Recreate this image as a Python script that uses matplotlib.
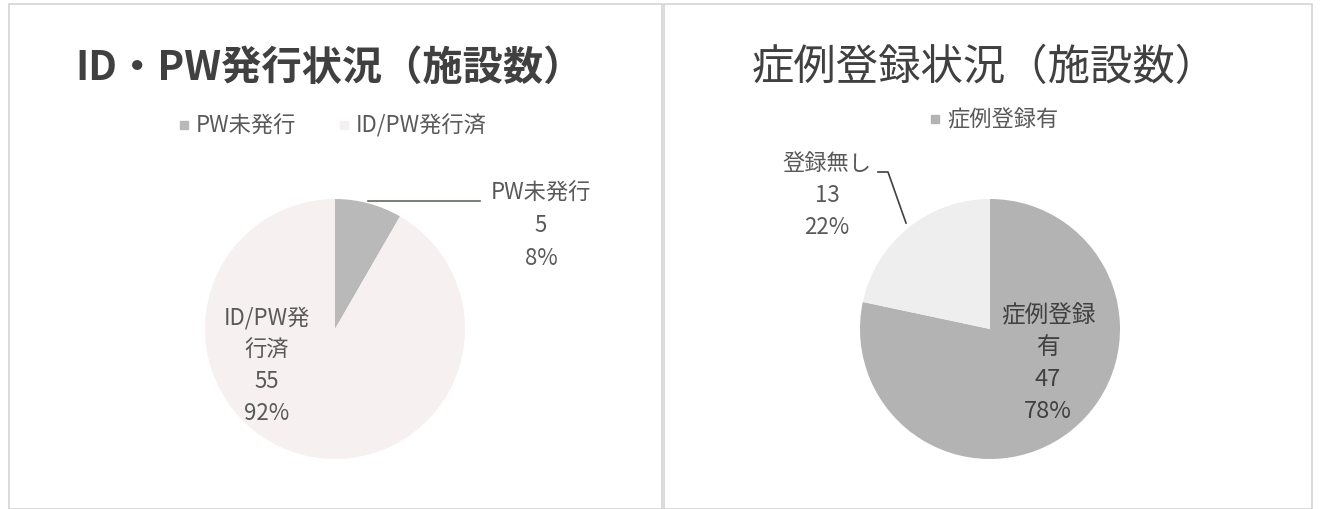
import matplotlib.pyplot as plt
from matplotlib.patches import Rectangle
from matplotlib.lines import Line2D

plt.rcParams['font.family'] = ['Noto Sans CJK JP', 'DejaVu Sans']

W, H = 1320, 510

# data
left_title = "ID・PW発行状況（施設数）"
left_cats = ["PW未発行", "ID/PW発行済"]
left_vals = [5, 55]
left_colors = ["#b9b9b9", "#f6f1f0"]

right_title = "症例登録状況（施設数）"
right_cats = ["症例登録有", "登録無し"]
right_vals = [47, 13]
right_colors = ["#b3b3b3", "#efeeee"]

TXT = "#595959"
FS = 16

fig = plt.figure(figsize=(W / 100, H / 100), dpi=100)

# panel borders
for x0, x1 in [(9, 662), (664, 1312)]:
    fig.add_artist(Rectangle((x0 / W, 0), (x1 - x0) / W, 1 - 5 / H, transform=fig.transFigure,
                             fill=False, edgecolor="#d4d4d4", linewidth=1.2))


def make_ax(x0, x1, y0, y1):
    return fig.add_axes([x0 / W, 1 - y1 / H, (x1 - x0) / W, (y1 - y0) / H])


def fix_ax(ax, x0, x1, y0, y1, cx, cy, R):
    ax.set_xlim((x0 - cx) / R, (x1 - cx) / R)
    ax.set_ylim((cy - y1) / R, (cy - y0) / R)
    ax.axis('off')


def pct(v, vals):
    return f"{round(100 * v / sum(vals))}%"


def legend_item(x, y, color, label):
    fig.add_artist(Rectangle((x / W, 1 - (y + 4) / H), 8 / W, 8 / H, color=color,
                             transform=fig.transFigure))
    fig.text((x + 16) / W, 1 - y / H, label, ha='left', va='center', fontsize=FS, color=TXT)


R = 130

# left chart
axL = make_ax(15, 655, 150, 500)
axL.pie(left_vals, colors=left_colors, startangle=90, counterclock=False, radius=1,
        center=(0, 0), frame=True)
fix_ax(axL, 15, 655, 150, 500, 335, 330, R)
fig.text(330 / W, 1 - 68 / H, left_title, ha='center', va='center', fontsize=29,
         fontweight='bold', color="#404040")
legend_item(180, 126, left_colors[0], left_cats[0])
legend_item(340, 126, left_colors[1], left_cats[1])
# data labels
axL.add_line(Line2D([(368 - 335) / R, (480 - 335) / R], [(330 - 202) / R, (330 - 202) / R],
                    color="#5f6b5f", linewidth=1.2))
axL.text((541 - 335) / R, (330 - 226) / R,
         f"{left_cats[0]}\n{left_vals[0]}\n{pct(left_vals[0], left_vals)}",
         ha='center', va='center', fontsize=FS, color=TXT, linespacing=1.55)
axL.text((267 - 335) / R, (330 - 366) / R,
         f"ID/PW発\n行済\n{left_vals[1]}\n{pct(left_vals[1], left_vals)}",
         ha='center', va='center', fontsize=FS, color=TXT, linespacing=1.5)

# right chart
axR = make_ax(670, 1305, 150, 500)
axR.pie(right_vals, colors=right_colors, startangle=90, counterclock=False, radius=1,
        center=(0, 0), frame=True)
fix_ax(axR, 670, 1305, 150, 500, 990, 330, R)
fig.text(985 / W, 1 - 68 / H, right_title, ha='center', va='center', fontsize=30.5,
         color="#404040")
legend_item(931, 120, right_colors[0], right_cats[0])
axR.add_line(Line2D([(878 - 990) / R, (888 - 990) / R, (906 - 990) / R],
                    [(330 - 173) / R, (330 - 173) / R, (330 - 224) / R],
                    color="#404040", linewidth=1.2))
axR.text((827 - 990) / R, (330 - 196) / R,
         f"{right_cats[1]}\n{right_vals[1]}\n{pct(right_vals[1], right_vals)}",
         ha='center', va='center', fontsize=FS, color=TXT, linespacing=1.5)
axR.text((1048 - 990) / R, (330 - 364) / R,
         f"症例登録\n有\n{right_vals[0]}\n{pct(right_vals[0], right_vals)}",
         ha='center', va='center', fontsize=17, color="#404040", linespacing=1.5)

fig.savefig("out.png", dpi=100)
